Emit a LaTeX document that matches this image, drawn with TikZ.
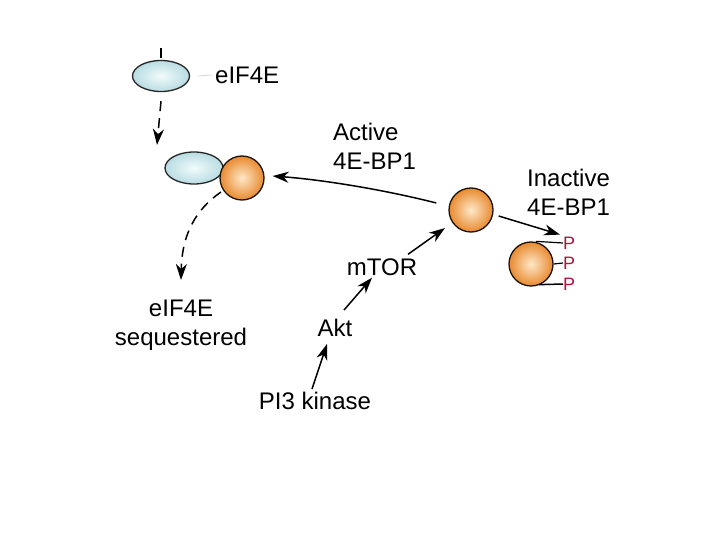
\documentclass[tikz,border=0pt]{standalone}
\usepackage{fontspec}
\setmainfont{Liberation Sans}
\usetikzlibrary{shapes.geometric,arrows.meta}
\definecolor{ballout}{HTML}{E88A30}
\definecolor{ballin}{HTML}{FEE8C8}
\definecolor{ellout}{HTML}{B8DCE2}
\definecolor{ellin}{HTML}{F2FBFB}
\definecolor{pred}{HTML}{B0143C}
\tikzset{
  ball/.style={circle,draw=black!85!brown,line width=1.3pt,minimum size=44pt,inner sep=0pt,inner color=ballin,outer color=ballout},
  egg/.style={ellipse,draw=black!85,line width=1.3pt,minimum width=57pt,minimum height=31pt,inner sep=0pt,inner color=ellin,outer color=ellout},
  lab/.style={font=\fontsize{24}{29}\selectfont,align=left,inner sep=0pt},
  plab/.style={font=\fontsize{18}{20}\selectfont,text=pred,inner sep=0pt},
  arr/.style={-{Stealth[length=16pt,width=11pt,inset=5pt]},line width=1.5pt},
  darr/.style={arr,dash pattern=on 10pt off 7pt}
}
\begin{document}
\begin{tikzpicture}[x=1pt,y=-1pt]
\useasboundingbox[fill=white] (0,0) rectangle (720,540);
% top eIF4E
\node[egg] (e1) at (161,76) {};
\coordinate (t1) at (161,48);
\draw[line width=1.5pt] (t1) -- (161,58);
\node[lab,anchor=west] (le1) at (215,75) {eIF4E};
\draw[gray!40,line width=0.6pt] (e1.east) ++(8,0) -- ([xshift=-3pt]le1.west);
\coordinate (d1) at (157,145);
\draw[darr] ([yshift=-9pt]e1.south) -- (d1);
% complex
\node[egg,minimum width=58pt,minimum height=32pt] (e2) at (194,168) {};
\node[ball] (c1) at (242,178) {};
% active label
\node[lab,anchor=west] (lact) at (333,146) {Active\\4E-BP1};
% middle right ball
\node[ball] (c2) at (471,210) {};
\draw[arr] ([xshift=-12pt,yshift=7pt]c2.west) .. controls (385,190) and (325,180) .. ([xshift=8pt,yshift=2pt]c1.east);
% inactive
\node[lab,anchor=west] (linact) at (527,192) {Inactive\\4E-BP1};
\node[ball] (c3) at (531,264) {};
\node[plab,anchor=west] (p1) at (563,243) {P};
\node[plab,anchor=west] (p2) at (563,263) {P};
\node[plab,anchor=west] (p3) at (563,284) {P};
\draw[line width=1.2pt] ([xshift=5pt]c3.north) -- (p1.west);
\draw[line width=1.2pt] (c3.east) -- (p2.west);
\draw[line width=1.5pt] ([xshift=8pt,yshift=2pt]c3.south) -- (p3.west);
\draw[arr] ([xshift=5pt,yshift=-6pt]c2.east) -- ([xshift=-3pt,yshift=2pt]p1.north west);
% sequestered
\node[lab,align=center] (lseq) at (181,325) {eIF4E\\sequestered};
\coordinate (d2) at (181,280);
\draw[darr] (221,192) .. controls (195,210) and (182,235) .. (d2);
% pathway
\node[lab] (mtor) at (382,267) {mTOR};
\node[lab] (akt) at (335,328) {Akt};
\node[lab] (pi3) at (315,401) {PI3 kinase};
\draw[arr] (pi3.north) ++(-3,-3) -- ([xshift=-8pt,yshift=-7pt]akt.south);
\draw[arr] ([xshift=9pt,yshift=9pt]akt.north) -- ([xshift=-10pt,yshift=-2pt]mtor.south);
\draw[arr] ([xshift=26pt,yshift=4pt]mtor.north) -- ([xshift=-10pt,yshift=-2pt]c2.south west);
\end{tikzpicture}
\end{document}
